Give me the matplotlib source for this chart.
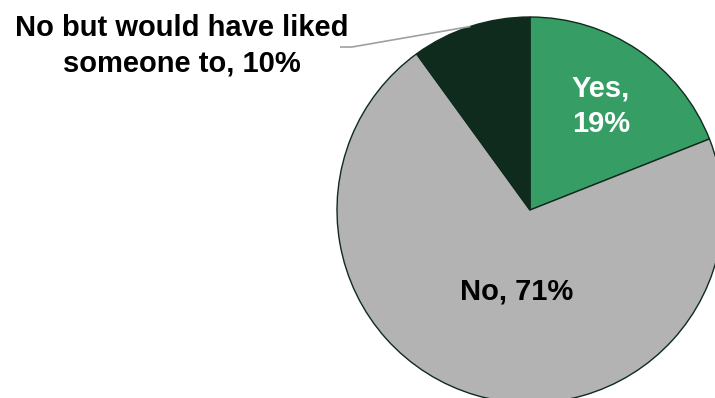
import numpy as np
import matplotlib
matplotlib.use("Agg")
import matplotlib.pyplot as plt

# Survey response shares (percent)
categories = ["Yes", "No", "No but would have liked someone to"]
values = [19, 71, 10]
colors = ["#369E64", "#B3B3B3", "#0F2B1D"]
edge_color = "#0F2B1D"

plt.rcParams["font.family"] = ["Liberation Sans", "DejaVu Sans"]

W, H = 715, 398
fig = plt.figure(figsize=(W / 100, H / 100), dpi=100)
ax = fig.add_axes([0, 0, 1, 1])

cx, cy, r = 530, H - 210, 193
wedges, _ = ax.pie(values, colors=colors, startangle=90, counterclock=False,
                   center=(cx, cy), radius=r, frame=True,
                   wedgeprops=dict(edgecolor=edge_color, linewidth=1.0))
ax.set_xlim(0, W)
ax.set_ylim(0, H)
ax.set_aspect("equal")
ax.axis("off")

fs = 21
ls = 1.33
# In-slice labels
ax.text(601, H - 106, f"{categories[0]},\n{values[0]}%", color="white",
        fontsize=fs, fontweight="bold", ha="center", va="center",
        linespacing=ls)
ax.text(517, H - 292, f"{categories[1]}, {values[1]}%", color="black",
        fontsize=fs, fontweight="bold", ha="center", va="center")

# Outside label with leader line for the small slice
w = wedges[2]
mid = np.deg2rad((w.theta1 + w.theta2) / 2)
px, py = cx + r * np.cos(mid), cy + r * np.sin(mid)
ax.plot([340, 352, px], [H - 47, H - 47, py], color="#A0A0A0", lw=1.2,
        solid_capstyle="butt")
ax.text(182, H - 46, "No but would have liked\nsomeone to, " + f"{values[2]}%",
        color="black", fontsize=fs, fontweight="bold", ha="center",
        va="center", linespacing=ls)

fig.savefig("out.png", dpi=100)
